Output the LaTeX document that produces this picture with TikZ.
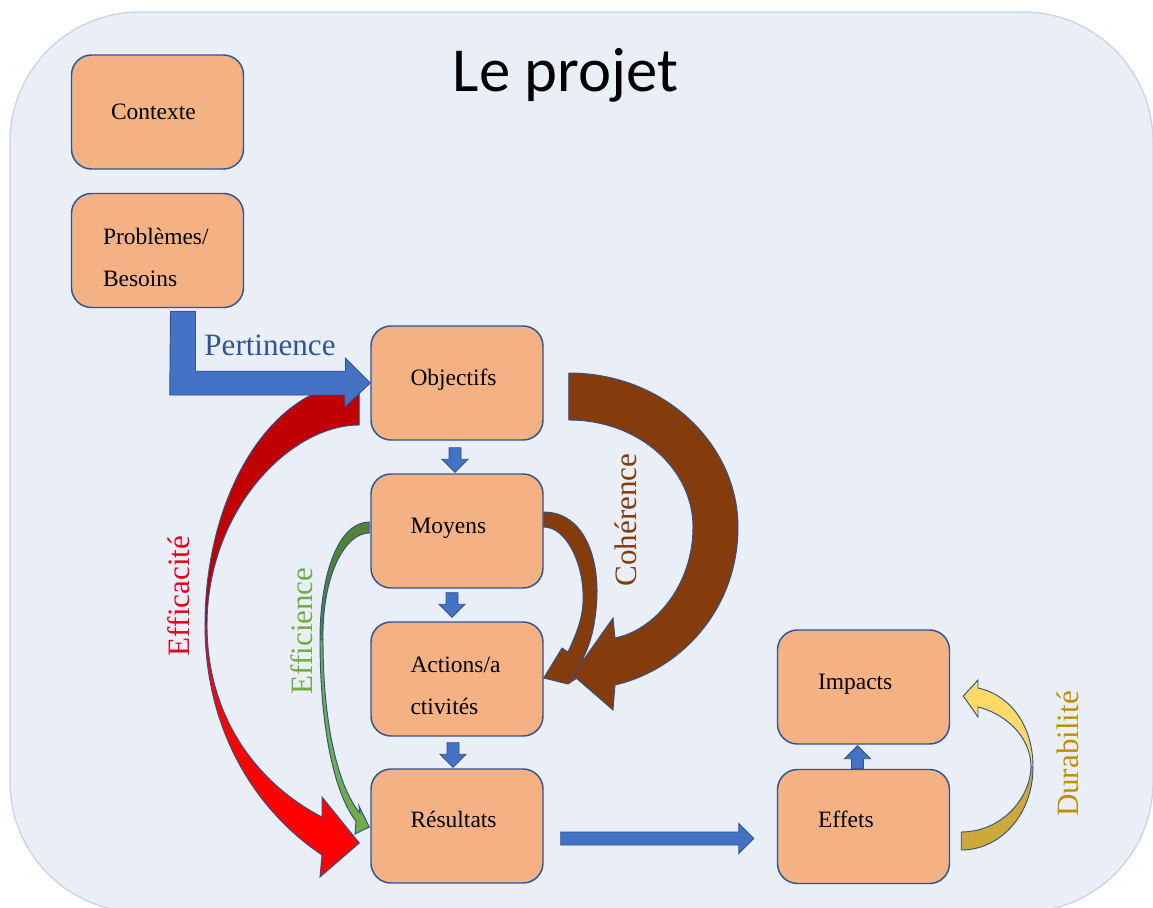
\documentclass[tikz,border=0pt]{standalone}
\usepackage{fontspec}
\setmainfont{Liberation Serif}
\newfontfamily\titlefont{Carlito}
\usetikzlibrary{calc}

\definecolor{bgfill}{HTML}{E9EEF7}
\definecolor{bgline}{HTML}{C9D4E8}
\definecolor{boxfill}{HTML}{F4B183}
\definecolor{boxline}{HTML}{2F5597}
\definecolor{arrblue}{HTML}{4472C4}
\definecolor{arrline}{HTML}{2F528F}
\definecolor{reddark}{HTML}{C00000}
\definecolor{redlight}{HTML}{FF0000}
\definecolor{greendark}{HTML}{548235}
\definecolor{greenlight}{HTML}{70AD47}
\definecolor{brown}{HTML}{843C0C}
\definecolor{yellowlight}{HTML}{FFD966}
\definecolor{golddark}{HTML}{CDA93A}
\definecolor{txtblue}{HTML}{2F5597}
\definecolor{txtred}{HTML}{E8001B}
\definecolor{txtgreen}{HTML}{70AD47}
\definecolor{txtbrown}{HTML}{843C0C}
\definecolor{txtgold}{HTML}{BF9000}

\begin{document}
\begin{tikzpicture}[x=0.75pt,y=-0.75pt,
  box/.style={draw=boxline, line width=1.1pt, fill=boxfill, rounded corners=15pt,
    minimum width=129pt, minimum height=85.5pt, inner sep=0pt},
  boxtext/.style={inner sep=0pt, font=\fontsize{17.6}{31.5}\selectfont, align=left},
  blockarrow/.style={fill=arrblue, draw=arrline, line width=0.7pt},
  bandline/.style={draw=arrline, line width=0.7pt},
  lbl/.style={inner sep=0pt, font=\fontsize{23.3}{28}\selectfont},
  vlbl/.style={lbl, rotate=90}
]
\useasboundingbox (0,0) rectangle (1153,907);
\clip (0,0) rectangle (1153,907);

% background panel
\filldraw[fill=bgfill, draw=bgline, line width=1pt, rounded corners=97.5pt]
  (10,12) rectangle (1153,912);

% title
\node[inner sep=0pt, anchor=base, font=\titlefont\fontsize{47}{56}\selectfont] (title)
  at (565.5,91) {Le projet};

% boxes
\node[box] (ctx)  at (157.5,112)   {};
\node[box] (prob) at (157.5,250.5) {};
\node[box] (obj)  at (457,383)     {};
\node[box] (moy)  at (457,531)     {};
\node[box] (act)  at (457,679)     {};
\node[box] (res)  at (457,826)     {};
\node[box] (imp)  at (863.5,687)   {};
\node[box] (eff)  at (863.5,826.5) {};

% box texts
\node[boxtext, anchor=base west] (ctx-t)  at ($(ctx.west)+(40,7.5)$) {Contexte};
\node[boxtext, anchor=west]      (prob-t) at ($(prob.west)+(32,6.5)$) {Problèmes/\\Besoins};
\node[boxtext, anchor=base west] (obj-t)  at ($(obj.west)+(40,2)$)  {Objectifs};
\node[boxtext, anchor=base west] (moy-t)  at ($(moy.west)+(40,2)$)  {Moyens};
\node[boxtext, anchor=west]      (act-t)  at ($(act.west)+(40,6.5)$) {Actions/a\\ctivités};
\node[boxtext, anchor=base west] (res-t)  at ($(res.west)+(40,1)$)  {Résultats};
\node[boxtext, anchor=base west] (imp-t)  at ($(imp.west)+(41,2)$)  {Impacts};
\node[boxtext, anchor=base west] (eff-t)  at ($(eff.west)+(41,0.5)$) {Effets};

% short downward block arrows between the chain boxes
\newcommand\downblock[2]{%
  \filldraw[blockarrow] ($(#1)+(-6,0)$) -- ($(#2)+(-6,-13)$) -- ($(#2)+(-13,-13)$)
    -- (#2) -- ($(#2)+(13,-13)$) -- ($(#2)+(6,-13)$) -- ($(#1)+(6,0)$) -- cycle;}
\downblock{$(obj.south)+(-2,7)$}{$(moy.north)+(-2,-1)$}
\downblock{$(moy.south)+(-5,4)$}{$(act.north)+(-5,-4)$}
\downblock{$(act.south)+(-4,6)$}{$(res.north)+(-4,-1)$}

% upward block arrow Effets -> Impacts
\coordinate (upA) at ($(eff.north)+(-6,0)$);
\coordinate (upB) at ($(imp.south)+(-6,1)$);
\filldraw[blockarrow] ($(upA)+(-6,0)$) -- ($(upB)+(-6,13)$) -- ($(upB)+(-13,13)$)
  -- (upB) -- ($(upB)+(13,13)$) -- ($(upB)+(6,13)$) -- ($(upA)+(6,0)$) -- cycle;

% horizontal block arrow Résultats -> Effets
\coordinate (hA) at ($(res.east)+(17,12.5)$);
\coordinate (hB) at ($(eff.west)+(-23,12)$);
\filldraw[blockarrow] ($(hA)+(0,-6.5)$) -- ($(hB)+(-15,-6.5)$) -- ($(hB)+(-15,-15)$)
  -- (hB) -- ($(hB)+(-15,15)$) -- ($(hB)+(-15,6.5)$) -- ($(hA)+(0,6.5)$) -- cycle;

% Efficacité: Objectifs -> Résultats (curved band)
\coordinate (rA) at ($(obj.west)+(-11,0)$);
\coordinate (rB) at ($(obj.west)+(-11,42)$);
\coordinate (rT) at ($(res.west)+(-11,17)$);
\filldraw[bandline, fill=reddark] (rA) .. controls (274,383) and (205,491) .. (205,625)
  -- (207,625) .. controls (207,510) and (290,425) .. (rB) -- cycle;
\filldraw[bandline, fill=redlight] (205,625) .. controls (205,730) and (255,810) .. (322,855)
  -- (320,877) -- (rT) -- (322,797) -- (322,817)
  .. controls (260,785) and (207,720) .. (207,625) -- cycle;

% Pertinence: Problèmes/Besoins -> Objectifs (elbow block arrow)
\coordinate (pA) at ($(prob.south)+(13,3)$);
\filldraw[blockarrow] (pA) -- ++(25,0) -- ++(0,60) -- ++(150,0) -- ++(0,-13)
  -- (obj.west) -- ++(-25.5,24) -- ++(0,-12) -- ++(-175,0) -- cycle;

% Efficience: Moyens -> Résultats (thin curved band)
\coordinate (gA) at ($(moy.west)+(-1,-9)$);
\coordinate (gB) at ($(moy.west)+(-1,2)$);
\coordinate (gT) at ($(res.west)+(-1,1)$);
\filldraw[bandline, fill=greendark] (gA) .. controls (340,522) and (320,570) .. (320,640)
  -- (323,640) .. controls (322,575) and (345,533) .. (gB) -- cycle;
\filldraw[bandline, fill=greenlight] (320,640) .. controls (320,730) and (335,795) .. (356,821)
  -- (355,834) -- (gT) -- (359,806) -- (360,813)
  .. controls (340,790) and (323,730) .. (323,640) -- cycle;

% Cohérence: Moyens -> Actions (small band)
\coordinate (bA) at ($(moy.east)+(0,-19)$);
\coordinate (bB) at ($(moy.east)+(0,-4)$);
\coordinate (bT) at ($(act.east)+(0,-1)$);
\filldraw[bandline, fill=brown] (bA) .. controls (580,512) and (598,550) .. (597,595)
  .. controls (596,625) and (590,645) .. (583,658) -- (592,668) -- (568,684) -- (bT)
  -- (562,648) -- (568,652) .. controls (578,630) and (584,615) .. (583,593)
  .. controls (582,560) and (565,527) .. (bB) -- cycle;

% Cohérence: Objectifs -> Actions (large band)
\coordinate (cA) at ($(obj.east)+(25,-10)$);
\coordinate (cB) at ($(obj.east)+(25,37)$);
\coordinate (cT) at ($(act.east)+(29,-4)$);
\filldraw[bandline, fill=brown] (cA) .. controls (665,373) and (738,445) .. (738,527)
  .. controls (738,610) and (680,670) .. (615,685) -- (613,710) -- (cT) -- (613,618)
  -- (615,638) .. controls (655,630) and (693,585) .. (693,527)
  .. controls (693,470) and (640,420) .. (cB) -- cycle;

% Durabilité: Effets -> Impacts
\coordinate (dA) at ($(eff.east)+(11,23.5)$);
\coordinate (dB) at ($(eff.east)+(11,5.5)$);
\coordinate (dT) at ($(imp.east)+(13,9)$);
\filldraw[bandline, fill=golddark] (dA) .. controls (1000,850) and (1033,815) .. (1033,767)
  -- (1031,767) .. controls (1030,800) and (1000,832) .. (dB) -- cycle;
\filldraw[bandline, fill=yellowlight] (1033,767) .. controls (1033,725) and (1010,695) .. (978,688)
  -- (978,680) -- (dT) -- (978,717) -- (978,707)
  .. controls (1003,713) and (1031,735) .. (1031,767) -- cycle;

% labels
\node[lbl, anchor=base, text=txtblue] (l-pert) at (270,355) {Pertinence};
\node[vlbl, text=txtred]   (l-effa) at (178.5,596) {Efficacité};
\node[vlbl, text=txtgreen] (l-effi) at (301.5,631) {Efficience};
\node[vlbl, text=txtbrown] (l-coh)  at (625.5,520) {Cohérence};
\node[vlbl, text=txtgold]  (l-dur)  at (1068,754)  {Durabilité};
\end{tikzpicture}
\end{document}
